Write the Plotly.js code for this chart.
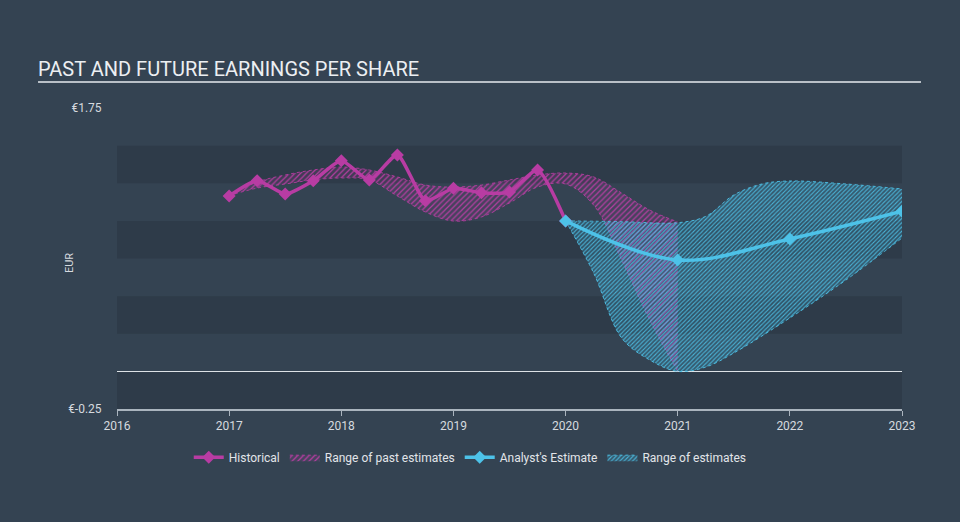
<!DOCTYPE html>
<html>
<head>
<meta charset="utf-8">
<script src="https://cdn.plot.ly/plotly-3.0.1.min.js"></script>
<style>
  html, body { margin: 0; padding: 0; background: #344352; }
  #chart { width: 960px; height: 522px; }
</style>
</head>
<body>
<div id="chart"></div>
<script>
// ---- data ----
const histX = [2017, 2017.25, 2017.5, 2017.75, 2018, 2018.25, 2018.5, 2018.75, 2019, 2019.25, 2019.5, 2019.75, 2020];
const histY = [1.165, 1.267, 1.179, 1.267, 1.400, 1.272, 1.438, 1.134, 1.216, 1.187, 1.192, 1.338, 1.0];

const pastRangeX = [2017, 2017.25, 2017.5, 2017.75, 2018, 2018.25, 2018.5, 2018.75, 2019, 2019.25, 2019.5, 2019.75, 2020, 2020.25, 2020.5, 2020.75, 2021];
const pastUpper = [1.168, 1.258, 1.305, 1.338, 1.358, 1.338, 1.292, 1.238, 1.225, 1.238, 1.272, 1.305, 1.318, 1.292, 1.185, 1.072, 0.993];
const pastLower = [1.168, 1.218, 1.245, 1.272, 1.285, 1.272, 1.165, 1.059, 0.999, 1.026, 1.119, 1.225, 1.245, 1.105, 0.740, 0.341, 0.0];

const estX = [2020, 2021, 2022, 2023];
const estY = [1.0, 0.74, 0.88, 1.064];

const estUpperX = [2020, 2020.5, 2021, 2021.25, 2021.5, 2021.75, 2022, 2022.5, 2023];
const estUpper = [1.0, 0.995, 0.988, 1.03, 1.172, 1.245, 1.265, 1.245, 1.212];
const estLowerX = [2020, 2020.25, 2020.5, 2020.75, 2021, 2021.25, 2021.5, 2022, 2022.5, 2023];
const estLower = [1.0, 0.654, 0.222, 0.076, 0.0, 0.029, 0.122, 0.355, 0.607, 0.886];

const xTicks = [2016, 2017, 2018, 2019, 2020, 2021, 2022, 2023];
const yTickVals = [1.75, -0.25];
const yTickText = ['€1.75', '€-0.25'];
const bandRanges = [[1.25, 1.5], [0.75, 1.0], [0.25, 0.5], [-0.25, 0]];

// ---- styles ----
const MAG = '#b83ca3';
const BLUE = '#4dc2e8';
const FONT = 'Roboto, "Open Sans", sans-serif';

const traces = [
  { x: pastRangeX, y: pastLower, mode: 'lines', type: 'scatter',
    line: { color: 'rgba(184,60,163,0.85)', width: 1, dash: 'dot', shape: 'spline', smoothing: 1 },
    showlegend: false, hoverinfo: 'skip' },
  { x: pastRangeX, y: pastUpper, mode: 'lines', type: 'scatter', name: 'Range of past estimates',
    fill: 'tonexty', fillcolor: 'rgba(184,60,163,0.14)',
    fillpattern: { shape: '/', fgcolor: 'rgba(190,62,168,0.9)', bgcolor: 'rgba(184,60,163,0.14)', size: 4, solidity: 0.3 },
    line: { color: 'rgba(184,60,163,0.85)', width: 1, dash: 'dot', shape: 'spline', smoothing: 1 },
    legendrank: 2 },
  { x: estLowerX, y: estLower, mode: 'lines', type: 'scatter',
    line: { color: 'rgba(77,194,232,0.9)', width: 1, dash: 'dot', shape: 'spline', smoothing: 1 },
    showlegend: false, hoverinfo: 'skip' },
  { x: estUpperX, y: estUpper, mode: 'lines', type: 'scatter', name: 'Range of estimates',
    fill: 'tonexty', fillcolor: 'rgba(77,194,232,0.22)',
    fillpattern: { shape: '/', fgcolor: 'rgba(77,194,232,0.85)', bgcolor: 'rgba(60,170,210,0.22)', size: 3, solidity: 0.35 },
    line: { color: 'rgba(77,194,232,0.9)', width: 1, dash: 'dot', shape: 'spline', smoothing: 1 },
    legendrank: 4 },
  { x: histX, y: histY, mode: 'lines+markers', type: 'scatter', name: 'Historical',
    line: { color: MAG, width: 3.5, shape: 'spline', smoothing: 0.6 },
    marker: { symbol: 'diamond', size: 10, color: MAG },
    legendrank: 1 },
  { x: estX, y: estY, mode: 'lines+markers', type: 'scatter', name: "Analyst's Estimate",
    line: { color: BLUE, width: 3.5, shape: 'spline', smoothing: 1 },
    marker: { symbol: 'diamond', size: 10, color: BLUE },
    legendrank: 3 }
];

const shapes = bandRanges.map(r => ({
  type: 'rect', xref: 'x', yref: 'y', x0: xTicks[0], x1: xTicks[xTicks.length - 1], y0: r[0], y1: r[1],
  fillcolor: '#2e3b49', line: { width: 0 }, layer: 'below'
}));
shapes.push({
  type: 'line', xref: 'paper', yref: 'paper', x0: -0.1006, x1: 1.0242, y0: 1.0864, y1: 1.0864,
  line: { color: '#b9c0c7', width: 2 }
});

const layout = {
  width: 960, height: 522,
  paper_bgcolor: '#344352', plot_bgcolor: '#344352',
  margin: { l: 117, r: 58, t: 108, b: 113 },
  font: { family: FONT, color: '#d6dadf', size: 12 },
  title: { text: 'PAST AND FUTURE EARNINGS PER SHARE', x: 38 / 960, xanchor: 'left', xref: 'container',
           y: 1 - 69 / 522, yanchor: 'middle', yref: 'container',
           font: { family: FONT, size: 20, color: '#eceff2' } },
  xaxis: {
    range: [2016, 2023], tickvals: xTicks, ticktext: xTicks.map(String),
    showgrid: false, zeroline: false, showline: true, linecolor: '#aab4be', linewidth: 1.5,
    ticks: 'outside', ticklen: 5, tickcolor: '#aab4be', tickwidth: 1,
    tickfont: { family: FONT, size: 12, color: '#d6dadf' }, fixedrange: true
  },
  yaxis: {
    range: [-0.25, 1.75], tickvals: yTickVals, ticktext: yTickText,
    showgrid: false, zeroline: true, zerolinecolor: '#dde2e6', zerolinewidth: 1.5,
    showline: false, ticks: 'outside', ticklen: 12, tickcolor: 'rgba(0,0,0,0)',
    tickfont: { family: FONT, size: 12, color: '#d6dadf' }, fixedrange: true
  },
  annotations: [{
    text: 'EUR', xref: 'paper', yref: 'paper', x: -0.0611, y: 0.485, textangle: -90,
    xanchor: 'center', yanchor: 'middle',
    showarrow: false, font: { family: FONT, size: 11, color: '#d6dadf' }
  }],
  shapes: shapes,
  showlegend: true,
  legend: { orientation: 'h', x: 0.45, xanchor: 'center', y: -0.16, yanchor: 'middle',
            font: { family: FONT, size: 12, color: '#e2e5e9' }, bgcolor: 'rgba(0,0,0,0)',
            itemwidth: 30, traceorder: 'normal' },
  hovermode: false
};

Plotly.newPlot('chart', traces, layout, { displayModeBar: false, staticPlot: true });
</script>
</body>
</html>
